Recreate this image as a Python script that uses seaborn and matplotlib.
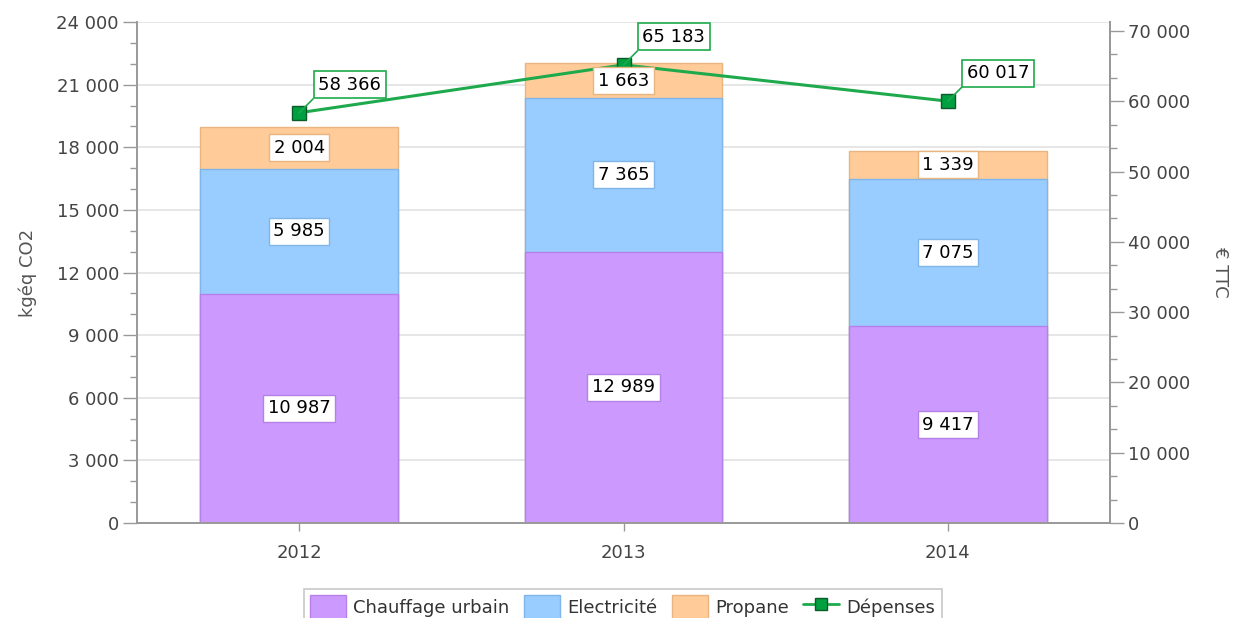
"""Émissions CO2 par énergie et dépenses annuelles."""

import matplotlib

matplotlib.use("Agg", force=True)

import matplotlib.pyplot as plt
import numpy as np
import pandas as pd
import seaborn as sns
from matplotlib.lines import Line2D
from matplotlib.patches import Patch
from matplotlib.ticker import FuncFormatter, MultipleLocator, AutoMinorLocator

years = ["2012", "2013", "2014"]
chauffage = [10987, 12989, 9417]
electricite = [5985, 7365, 7075]
propane = [2004, 1663, 1339]
depenses = [58366, 65183, 60017]

series_names = ["Chauffage urbain", "Electricité", "Propane"]
face_colors = ["#CC99FF", "#99CCFF", "#FFCC99"]
edge_colors = ["#B580E8", "#80B5E8", "#E8B580"]
green_line = "#1EAA4C"
green_face = "#00A040"
green_edge = "#0B5A28"


def fmt_space(v, _pos=None):
    return f"{v:,.0f}".replace(",", " ")


sns.set_style("white")
plt.rcParams["font.family"] = ["DejaVu Sans"]

df = pd.DataFrame(
    {"year": years, "chauffage": chauffage, "electricite": electricite, "propane": propane}
)
df["c1"] = df["chauffage"]
df["c2"] = df["c1"] + df["electricite"]
df["c3"] = df["c2"] + df["propane"]

fig = plt.figure(figsize=(12.33, 6.18), dpi=100)
ax = fig.add_axes([137 / 1233, 1 - 523 / 618, 973 / 1233, 501 / 618])

# stacked bars by overlaying cumulative totals
for col, fc, ec in zip(["c3", "c2", "c1"], face_colors[::-1], edge_colors[::-1]):
    sns.barplot(data=df, x="year", y=col, color=fc, edgecolor=ec, linewidth=1.0,
                width=0.61, saturation=1, ax=ax, zorder=2)

ax.set_xlim(-0.5, 2.5)
ax.set_ylim(0, 24000)
ax.yaxis.set_major_locator(MultipleLocator(3000))
ax.yaxis.set_minor_locator(AutoMinorLocator(3))
ax.yaxis.set_major_formatter(FuncFormatter(fmt_space))
ax.grid(axis="y", which="major", color="#E2E2E2", linewidth=1.2, zorder=0)
ax.set_axisbelow(True)
ax.set_xlabel("")
ax.set_ylabel("kgéq CO2", fontsize=13, color="#555555", labelpad=14)
ax.tick_params(axis="y", which="major", length=10, width=1, color="#999999",
               labelsize=13, labelcolor="#444444", pad=3, direction="out", left=True)
ax.tick_params(axis="y", which="minor", length=5, width=1, color="#999999", left=True)
ax.tick_params(axis="x", length=6, width=1, color="#999999", labelsize=13,
               labelcolor="#444444", pad=9, bottom=True)
for side in ["left", "bottom", "right"]:
    ax.spines[side].set_color("#999999")
    ax.spines[side].set_linewidth(1.4)
ax.spines["top"].set_visible(False)

# spending line on secondary axis
ax2 = ax.twinx()
sns.lineplot(x=np.arange(len(years)), y=depenses, ax=ax2, color=green_line,
             linewidth=2.2, marker="s", markersize=10, markerfacecolor=green_face,
             markeredgecolor=green_edge, markeredgewidth=1.0, zorder=6)
ax2.set_ylim(0, 71280)
ax2.yaxis.set_major_locator(MultipleLocator(10000))
ax2.yaxis.set_minor_locator(AutoMinorLocator(3))
ax2.yaxis.set_major_formatter(FuncFormatter(fmt_space))
ax2.set_ylabel("€ TTC", fontsize=13, color="#555555", rotation=270, labelpad=28)
ax2.tick_params(axis="y", which="major", length=10, width=1, color="#999999",
                labelsize=13, labelcolor="#444444", pad=3)
ax2.tick_params(axis="y", which="minor", length=5, width=1, color="#999999")
ax2.grid(False)
for side in ["left", "bottom", "top"]:
    ax2.spines[side].set_visible(False)
ax2.spines["right"].set_color("#999999")
ax2.spines["right"].set_linewidth(1.4)

# segment labels, drawn on the top axes so they sit above the line
for i in range(len(years)):
    bottoms = [0, chauffage[i], chauffage[i] + electricite[i]]
    vals = [chauffage[i], electricite[i], propane[i]]
    for b, v, ec in zip(bottoms, vals, edge_colors):
        ax2.text(i, b + v / 2, fmt_space(v), transform=ax.transData,
                 ha="center", va="center", fontsize=13, color="black", zorder=8,
                 bbox=dict(boxstyle="square,pad=0.25", facecolor="white", edgecolor=ec,
                           linewidth=1.0))

for i, v in enumerate(depenses):
    ax2.annotate(fmt_space(v), xy=(i, v), xytext=(19, 19), textcoords="offset pixels",
                 ha="left", va="bottom", fontsize=13, color="black", zorder=9,
                 bbox=dict(boxstyle="square,pad=0.25", facecolor="white",
                           edgecolor=green_line, linewidth=1.2),
                 arrowprops=dict(arrowstyle="-", color=green_line, linewidth=1.2,
                                 relpos=(0, 0), shrinkA=0, shrinkB=0))

handles = [Patch(facecolor=fc, edgecolor=ec, label=name)
           for name, fc, ec in zip(series_names, face_colors, edge_colors)]
handles.append(Line2D([0], [0], color=green_line, linewidth=2, marker="s",
                      markersize=8, markerfacecolor=green_face,
                      markeredgecolor=green_edge, label="Dépenses"))
leg = fig.legend(handles=handles, loc="upper center", bbox_to_anchor=(0.505, 0.062),
                 ncol=4, frameon=True, fancybox=False, fontsize=13,
                 handlelength=2.0, handleheight=1.7, handletextpad=0.4,
                 columnspacing=0.8, borderpad=0.35)
leg.get_frame().set_edgecolor("#BBBBBB")
leg.get_frame().set_linewidth(1.2)
for t in leg.get_texts():
    t.set_color("#333333")

fig.savefig("out.png", dpi=100)
